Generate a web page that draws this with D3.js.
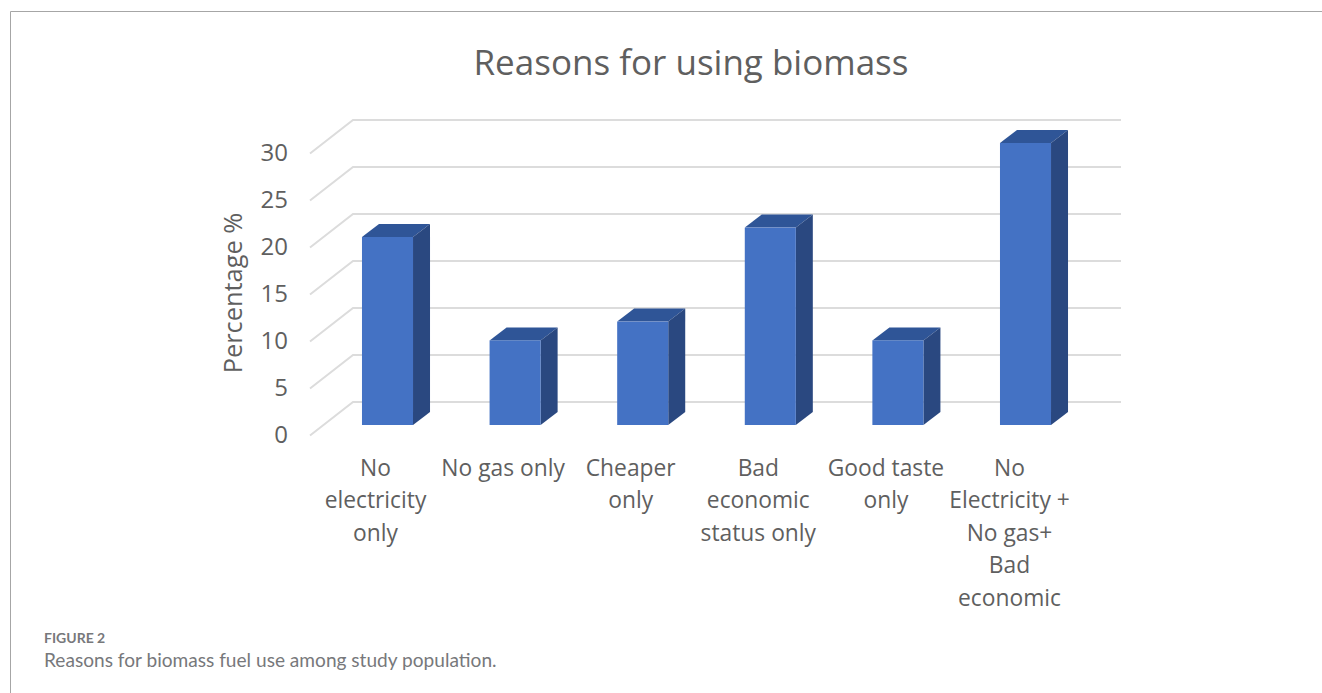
<!DOCTYPE html>
<html lang="en">
  <head>
    <meta charset="UTF-8" />
    <title>Reasons for using biomass</title>
    <script src="https://d3js.org/d3.v7.min.js"></script>
    <style>
      html, body { margin: 0; padding: 0; background: #fff; }
      svg { display: block; }
      text { font-family: "Open Sans", sans-serif; fill: #5f5f5f; }
    </style>
  </head>
  <body>
    <svg width="1322" height="693"></svg>

    <script>
      // chart data
      const categories = [
        "No electricity only",
        "No gas only",
        "Cheaper only",
        "Bad economic status only",
        "Good taste only",
        "No Electricity + No gas+ Bad economic",
      ];
      const categoryLines = [
        ["No", "electricity", "only"],
        ["No gas only"],
        ["Cheaper", "only"],
        ["Bad", "economic", "status only"],
        ["Good taste", "only"],
        ["No", "Electricity +", "No gas+", "Bad", "economic"],
      ];
      const percentages = [20, 9, 11, 21, 9, 30];
      const yTicks = [0, 5, 10, 15, 20, 25, 30];

      const svg = d3.select("svg");

      // front plane of the fake 3d plot
      const x = d3
        .scaleBand()
        .domain(categories)
        .range([323.7, 1089.3])
        .paddingInner(0.6)
        .paddingOuter(0.3);
      const y = d3.scaleLinear().domain([0, 30]).range([425, 143]);

      const depthX = 17;
      const depthY = 13;

      // figure frame
      svg
        .append("path")
        .attr("d", "M10.5,693V11.5H1322")
        .attr("fill", "none")
        .attr("stroke", "#a6a6a6")
        .attr("stroke-width", 1);

      // grid: short diagonal on the floor side, then the back wall line
      const grid = svg.append("g").attr("fill", "none").attr("stroke", "#dcdcdc").attr("stroke-width", 2);
      grid
        .selectAll("path")
        .data(yTicks)
        .join("path")
        .attr("d", (d) => {
          const back = y(d) - 23;
          return d3.line()([
            [310, y(d) + 10.5],
            [353, back],
            [1121, back],
          ]);
        });

      // bars
      const bars = svg
        .append("g")
        .selectAll("g")
        .data(percentages)
        .join("g");

      const left = (i) => x(categories[i]);
      const right = (i) => x(categories[i]) + x.bandwidth();

      bars
        .append("path")
        .attr("fill", "#2f5597")
        .attr("d", (d, i) =>
          d3.line()([
            [left(i), y(d)],
            [left(i) + depthX, y(d) - depthY],
            [right(i) + depthX, y(d) - depthY],
            [right(i), y(d)],
          ])
        );
      bars
        .append("path")
        .attr("fill", "#2a4880")
        .attr("d", (d, i) =>
          d3.line()([
            [right(i), y(d)],
            [right(i) + depthX, y(d) - depthY],
            [right(i) + depthX, y(0) - depthY],
            [right(i), y(0)],
          ])
        );
      bars
        .append("rect")
        .attr("fill", "#4472c4")
        .attr("x", (d, i) => left(i))
        .attr("y", (d) => y(d))
        .attr("width", x.bandwidth())
        .attr("height", (d) => y(0) - y(d));

      // y axis
      const yAxis = svg
        .append("g")
        .attr("transform", "translate(288,9)")
        .call(d3.axisLeft(y).tickValues(yTicks).tickSize(0).tickPadding(0));
      yAxis.select(".domain").remove();
      yAxis
        .selectAll("text")
        .attr("font-family", null)
        .style("font-size", "24px")
        .attr("dy", "0.35em");

      // category labels, the last one sits a little further left of its bar
      const labelShift = (i) => (i === 5 ? -16 : -12);
      const labels = svg
        .append("g")
        .selectAll("text")
        .data(categoryLines)
        .join("text")
        .attr("text-anchor", "middle")
        .style("font-size", "22.8px");
      labels
        .selectAll("tspan")
        .data((d, i) => d.map((line) => ({ line, i })))
        .join("tspan")
        .attr("x", (d) => x(categories[d.i]) + x.bandwidth() / 2 + labelShift(d.i))
        .attr("y", (d, j) => 476 + j * 32.4)
        .text((d) => d.line);

      // titles
      svg
        .append("text")
        .attr("x", 691)
        .attr("y", 75)
        .attr("text-anchor", "middle")
        .style("font-size", "35px")
        .text("Reasons for using biomass");

      svg
        .append("text")
        .attr("transform", "translate(242,293) rotate(-90)")
        .attr("text-anchor", "middle")
        .style("font-size", "25.4px")
        .text("Percentage %");

      // caption
      svg
        .append("text")
        .attr("x", 44)
        .attr("y", 643)
        .style("font-family", "Lato, sans-serif")
        .style("font-size", "14px")
        .style("font-weight", "700")
        .style("fill", "#77787b")
        .text("FIGURE 2");
      svg
        .append("text")
        .attr("x", 44)
        .attr("y", 667)
        .style("font-family", "Lato, sans-serif")
        .style("font-size", "19.1px")
        .style("fill", "#77787b")
        .text("Reasons for biomass fuel use among study population.");
    </script>
  </body>
</html>
